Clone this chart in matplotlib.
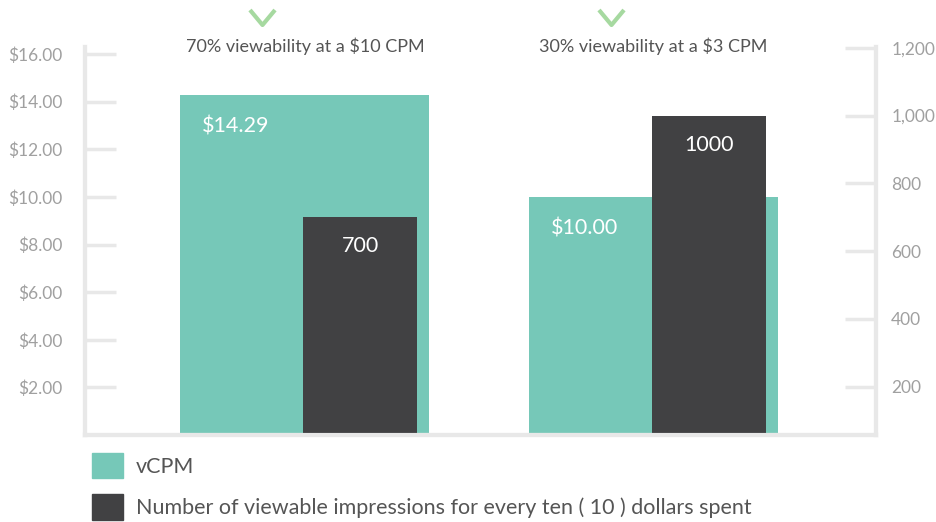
import numpy as np
import matplotlib.pyplot as plt
from matplotlib.path import Path
from matplotlib.patches import Patch
import matplotlib.transforms as mtransforms

# data
scenarios = ["70% viewability at a $10 CPM", "30% viewability at a $3 CPM"]
vcpm = [14.29, 10.00]
vcpm_labels = ["$14.29", "$10.00"]
impressions = [700, 1000]
impression_labels = ["700", "1000"]
left_ticks = [2, 4, 6, 8, 10, 12, 14, 16]
right_ticks = [200, 400, 600, 800, 1000, 1200]

teal = "#76c8b8"
dark = "#414143"
spine_col = "#e8e8e8"
tick_col = "#a0a0a0"
text_col = "#555555"

plt.rcParams['font.family'] = ['Lato', 'DejaVu Sans']

fig = plt.figure(figsize=(9.37, 5.22), dpi=100)
ax = fig.add_axes([85/937, 87/522, 791/937, 388/522])
ax2 = ax.twinx()

x = np.arange(len(scenarios))
ax.bar(x, vcpm, width=0.7135, color=teal, zorder=2)
ax2.bar(x - 0.004, impressions, width=0.3266, align='edge', color=dark, zorder=2)

ax.set_yticks(left_ticks)
ax.set_yticklabels([f"${v:.2f}" for v in left_ticks])
ax2.set_yticks(right_ticks)
ax2.set_yticklabels([f"{v:,}" for v in right_ticks])
ax.set_xticks([])

# limits after the ticks, set_yticks would widen them otherwise
ax.set_xlim(-0.629, 1.6376)
ax.set_ylim(0, 16.30)
ax2.set_ylim(56.8, 1202.5)

for a in (ax, ax2):
    a.tick_params(axis='y', direction='in', length=22, width=2.5, color=spine_col,
                  labelcolor=tick_col, labelsize=12.5)
    a.spines['top'].set_visible(False)
    for s in ('left', 'right', 'bottom'):
        a.spines[s].set_color(spine_col)
        a.spines[s].set_linewidth(3)
ax.tick_params(axis='y', pad=16)
ax2.tick_params(axis='y', pad=11)

# value labels inside bars
for i in x:
    ax.annotate(vcpm_labels[i], (i - 0.7135/2, vcpm[i]), xytext=(22, -32),
                textcoords='offset pixels', ha='left', va='center',
                color='white', fontsize=15.5, zorder=3)
    ax2.annotate(impression_labels[i], (i - 0.004 + 0.3266/2, impressions[i]), xytext=(0, -29),
                 textcoords='offset pixels', ha='center', va='center',
                 color='white', fontsize=15.5, zorder=3)

# scenario captions and chevrons on top
trans = mtransforms.blended_transform_factory(ax.transData, fig.transFigure)
chevron = Path([(-1, 0.6), (0, -0.6), (1, 0.6)], [Path.MOVETO, Path.LINETO, Path.LINETO])
for i, s in enumerate(scenarios):
    ax.text(i + 0.002 * (1 - 2 * i), 1 - 46/522, s, transform=trans, ha='center', va='center',
            color=text_col, fontsize=13)
    ax.plot([i - 0.123], [1 - 17/522], transform=trans, marker=chevron, markersize=18,
            markerfacecolor='none', markeredgecolor='#a6d9a0', markeredgewidth=3,
            linestyle='none', clip_on=False)

handles = [Patch(color=teal, label="vCPM"),
           Patch(color=dark, label="Number of viewable impressions for every ten ( 10 ) dollars spent")]
fig.legend(handles=handles, loc='upper left', bbox_to_anchor=(83/937, 1 - 444/522),
           frameon=False, fontsize=15.5, handlelength=1.45, handleheight=1.45,
           handletextpad=0.6, labelspacing=0.75, labelcolor=text_col, borderaxespad=0)

fig.savefig("out.png", dpi=100)
